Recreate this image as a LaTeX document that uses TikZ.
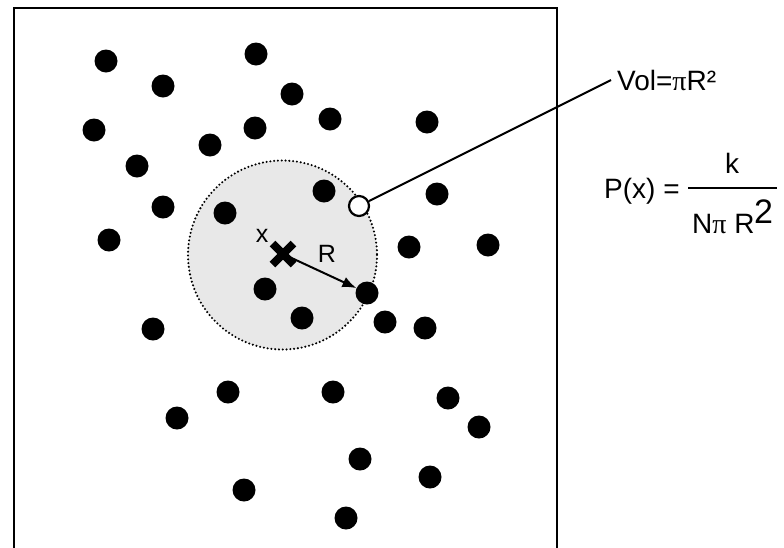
\documentclass[tikz,border=0pt]{standalone}
\usepackage{fontspec}
\setmainfont{Liberation Sans}
\newfontfamily\pifont{Liberation Serif}
\usetikzlibrary{arrows.meta}
\definecolor{zone}{RGB}{232,232,232}
\tikzset{
  pt/.style={circle,fill=black,inner sep=0pt,minimum size=23pt},
  probe/.style={circle,draw=black,fill=white,line width=2.2pt,inner sep=0pt,minimum size=20pt},
  lbl/.style={inner sep=0pt,font=\fontsize{25}{27}\selectfont},
  eq/.style={inner sep=0pt,font=\fontsize{28}{30}\selectfont},
  thin line/.style={line width=2pt}
}
\begin{document}
\begin{tikzpicture}[x=1pt,y=-1pt]
\useasboundingbox (0,0) rectangle (784,547);
% neighbourhood
\fill[zone] (282.5,255) circle (94.5);
\draw[line width=2.3pt,line cap=round,dash pattern=on 0pt off 3.8pt] (282.5,255) circle (94.5);
% frame
\draw[line width=2.5pt] (14,548) -- (14,8) -- (557,8) -- (557,548);
% points
\foreach \n/\px/\py in {1/106/61,2/256/54,3/163/86,4/292/94,5/94/130,6/255/128,7/330/119,8/427/122,
  9/210/145,10/137/166,11/163/207,12/225/213,13/324/191,14/437/194,15/109/240,16/409/247,
  17/488/245,18/265/289,19/367/293,20/302/318,21/385/322,22/425/328,23/153/329,24/228/392,
  25/333/392,26/448/398,27/177/418,28/479/427,29/360/459,30/430/477,31/244/490,32/346/518}
  \node[pt] (d\n) at (\px,\py) {};
% probe point and leader
\node[probe] (probe) at (359,206) {};
\coordinate (lead) at (611,80);
\draw[thin line] (probe) -- (lead);
\node[eq,anchor=base west] (vol) at (617,90) {Vol={\pifont π}R²};
% query point
\coordinate (c) at (283,254);
\draw[thin line,-{Latex[length=14pt,width=11pt]}] (c) -- (d19);
\draw[line width=8pt] ([shift={(-10.5,-10.5)}]c) -- ([shift={(10.5,10.5)}]c);
\draw[line width=8pt] ([shift={(-10.5,10.5)}]c) -- ([shift={(10.5,-10.5)}]c);
\node[lbl] (xl) at (262,236) {x};
\node[lbl] (rl) at (327,254) {R};
% formula
\node[eq,anchor=base west] (px) at (604,198) {P(x) =};
\node[eq,anchor=base] (num) at (732,173) {k};
\coordinate (bl) at (688,188);
\coordinate (br) at (777,188);
\draw[thin line] (bl) -- (br);
\node[eq,anchor=base west] (den) at (692,233) {N{\pifont π} R};
\node[inner sep=0pt,anchor=base west,font=\fontsize{34}{34}\selectfont] (sq) at (754,223) {2};
\end{tikzpicture}
\end{document}
